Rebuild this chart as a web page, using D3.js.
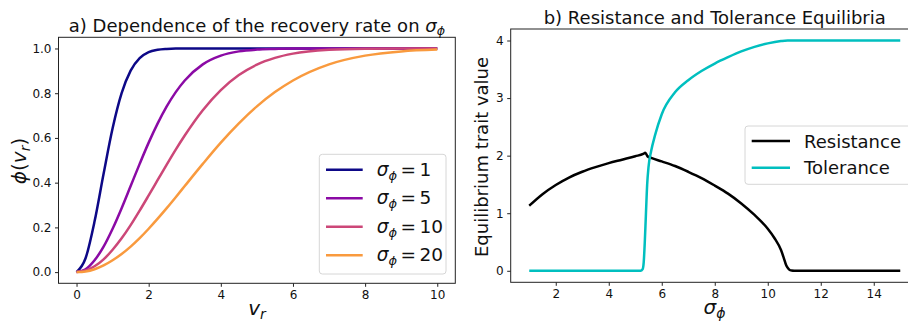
<!DOCTYPE html>
<html>
<head>
<meta charset="utf-8">
<script src="https://cdn.jsdelivr.net/npm/d3@7"></script>
<style>
  body { margin: 0; background: #fff; }
  svg { display: block; font-family: "DejaVu Sans", sans-serif; }
</style>
</head>
<body>
<div id="chart"></div>
<script>
const WIDTH = 908;
const HEIGHT = 322;

// panel a: recovery rate curves
const vGrid = [0, 0.25, 0.5, 0.75, 1, 1.25, 1.5, 1.75, 2, 2.25, 2.5, 2.75, 3, 3.5, 4, 4.5, 5, 5.5, 6, 7, 8, 9, 10];
const phiSigma1 = [0, 0.062, 0.227, 0.44, 0.643, 0.8, 0.901, 0.957, 0.984, 0.994, 0.998, 1, 1, 1, 1, 1, 1, 1, 1, 1, 1, 1, 1];
const phiSigma5 = [0, 0.013, 0.053, 0.114, 0.194, 0.286, 0.385, 0.484, 0.579, 0.665, 0.741, 0.805, 0.857, 0.929, 0.968, 0.987, 0.995, 0.998, 1, 1, 1, 1, 1];
const phiSigma10 = [0, 0.007, 0.026, 0.057, 0.1, 0.151, 0.21, 0.275, 0.343, 0.412, 0.481, 0.548, 0.611, 0.724, 0.814, 0.881, 0.928, 0.958, 0.977, 0.994, 0.999, 1, 1];
const phiSigma20 = [0, 0.003, 0.013, 0.03, 0.053, 0.081, 0.114, 0.152, 0.194, 0.239, 0.286, 0.335, 0.385, 0.484, 0.579, 0.665, 0.741, 0.805, 0.857, 0.929, 0.968, 0.987, 0.995];
const sigmaLabels = ['1', '5', '10', '20'];
const xTicksA = [0, 2, 4, 6, 8, 10];
const yTicksA = [0, 0.2, 0.4, 0.6, 0.8, 1.0];

// panel b: equilibria against sigma_phi
const resistanceSigma = [1, 1.5, 2, 2.5, 3, 3.5, 4, 4.5, 5, 5.3, 5.38, 5.46, 5.6, 6, 6.5, 7, 7.5, 8, 8.5, 9, 9.5, 10, 10.25, 10.5, 10.6, 10.7, 10.8, 10.9, 11, 12, 13, 14, 15];
const resistanceValues = [1.13, 1.33, 1.49, 1.62, 1.72, 1.8, 1.87, 1.93, 1.99, 2.03, 2.05, 1.99, 1.96, 1.9, 1.82, 1.72, 1.61, 1.48, 1.34, 1.17, 0.97, 0.73, 0.57, 0.36, 0.23, 0.09, 0.025, 0.003, 0, 0, 0, 0, 0];
const toleranceSigma = [1, 2, 3, 4, 5, 5.2, 5.28, 5.32, 5.36, 5.4, 5.45, 5.5, 5.6, 5.75, 6, 6.5, 7, 7.5, 8, 8.5, 9, 9.5, 10, 10.5, 10.75, 11, 12, 13, 14, 15];
const toleranceValues = [0, 0, 0, 0, 0, 0, 0.03, 0.15, 0.5, 0.95, 1.5, 1.8, 2.08, 2.36, 2.72, 3.1, 3.31, 3.47, 3.6, 3.71, 3.81, 3.89, 3.95, 3.99, 4, 4, 4, 4, 4, 4];
const seriesNamesB = ['Resistance', 'Tolerance'];
const xTicksB = [2, 4, 6, 8, 10, 12, 14];
const yTicksB = [0, 1, 2, 3, 4];

const colorsA = ['#0d0887', '#8b0aa5', '#cc4778', '#f99a3e'];
const colorsB = ['#000000', '#00bfbf'];

const svg = d3.select('#chart').append('svg')
  .attr('width', WIDTH)
  .attr('height', HEIGHT);

// write mathtext-like pieces: {t, it, sub, dx}
function mathText(sel, parts) {
  let inSub = false;
  parts.forEach((p) => {
    const ts = sel.append('tspan').text(p.t);
    if (p.it) ts.attr('font-style', 'italic');
    if (p.dx) ts.attr('dx', p.dx);
    if (p.sub && !inSub) { ts.attr('dy', '0.3em').attr('font-size', '0.7em'); inSub = true; }
    else if (p.sub) ts.attr('font-size', '0.7em');
    else if (inSub) { ts.attr('dy', '-0.21em'); inSub = false; }
  });
  return sel;
}

function drawAxes(g, x, y, xt, yt, yfmt) {
  const [x0, x1] = x.range();
  const [y0, y1] = y.range();
  g.append('g')
    .attr('transform', `translate(0,${y0})`)
    .call(d3.axisBottom(x).tickValues(xt).tickSize(3.5).tickPadding(3.5).tickSizeOuter(0))
    .call((a) => a.select('.domain').remove());
  g.append('g')
    .attr('transform', `translate(${x0},0)`)
    .call(d3.axisLeft(y).tickValues(yt).tickFormat(yfmt).tickSize(3.5).tickPadding(3.5).tickSizeOuter(0))
    .call((a) => a.select('.domain').remove());
  g.selectAll('.tick text').attr('font-size', 12).attr('font-family', 'DejaVu Sans').attr('fill', '#111');
  g.selectAll('.tick line').attr('stroke', '#222');
  g.append('rect')
    .attr('x', x0).attr('y', y1)
    .attr('width', x1 - x0).attr('height', y0 - y1)
    .attr('fill', 'none').attr('stroke', '#222').attr('stroke-width', 1);
}

// ---- panel a
const xA = d3.scaleLinear().domain([-0.5, 10.5]).range([58.5, 455.3]);
const yA = d3.scaleLinear().domain([-0.05, 1.05]).range([283.3, 37.3]);
const gA = svg.append('g');

drawAxes(gA, xA, yA, xTicksA, yTicksA, d3.format('.1f'));

const lineA = d3.line()
  .x((d) => xA(d[0]))
  .y((d) => yA(d[1]))
  .curve(d3.curveMonotoneX);

[phiSigma1, phiSigma5, phiSigma10, phiSigma20].forEach((vals, i) => {
  gA.append('path')
    .datum(vGrid.map((v, j) => [v, vals[j]]))
    .attr('d', lineA)
    .attr('fill', 'none')
    .attr('stroke', colorsA[i])
    .attr('stroke-width', 2.5);
});

mathText(gA.append('text')
  .attr('x', (xA.range()[0] + xA.range()[1]) / 2).attr('y', 31.5)
  .attr('text-anchor', 'middle').attr('font-size', 18).attr('fill', '#111'),
  [{t: 'a) Dependence of the recovery rate on '}, {t: 'σ', it: true}, {t: 'ϕ', it: true, sub: true}]);

mathText(gA.append('text')
  .attr('x', 257).attr('y', 314.5)
  .attr('text-anchor', 'middle').attr('font-size', 20).attr('fill', '#111'),
  [{t: 'v', it: true}, {t: 'r', it: true, sub: true}]);

mathText(gA.append('text')
  .attr('transform', 'translate(26,161) rotate(-90)')
  .attr('text-anchor', 'middle').attr('font-size', 20).attr('fill', '#111'),
  [{t: 'ϕ', it: true}, {t: '('}, {t: 'v', it: true}, {t: 'r', it: true, sub: true}, {t: ')'}]);

// legend a
const legA = gA.append('g');
legA.append('rect')
  .attr('x', 319.3).attr('y', 154.3).attr('width', 126.7).attr('height', 119.7)
  .attr('rx', 3).attr('fill', '#fff').attr('fill-opacity', 0.8)
  .attr('stroke', '#d6d6d6');
sigmaLabels.forEach((lab, i) => {
  const ly = 169.7 + i * 28.5;
  legA.append('line')
    .attr('x1', 326).attr('x2', 362.7).attr('y1', ly).attr('y2', ly)
    .attr('stroke', colorsA[i]).attr('stroke-width', 2.5);
  mathText(legA.append('text')
    .attr('x', 376.7).attr('y', ly + 6)
    .attr('font-size', 18.5).attr('fill', '#111'),
    [{t: 'σ', it: true}, {t: 'ϕ', it: true, sub: true}, {t: '=', dx: 3.5}, {t: lab, dx: 3.5}]);
});

// ---- panel b
const xB = d3.scaleLinear().domain([0.3, 15.7]).range([510.7, 918.8]);
const yB = d3.scaleLinear().domain([-0.2, 4.2]).range([282.3, 29]);
const gB = svg.append('g');

drawAxes(gB, xB, yB, xTicksB, yTicksB, d3.format('d'));

const lineB = d3.line()
  .x((d) => xB(d[0]))
  .y((d) => yB(d[1]))
  .curve(d3.curveMonotoneX);

[[resistanceSigma, resistanceValues], [toleranceSigma, toleranceValues]].forEach(([xs, ys], i) => {
  gB.append('path')
    .datum(xs.map((s, j) => [s, ys[j]]))
    .attr('d', lineB)
    .attr('fill', 'none')
    .attr('stroke', colorsB[i])
    .attr('stroke-width', 2.5);
});

gB.append('text')
  .attr('x', (xB.range()[0] + xB.range()[1]) / 2).attr('y', 24)
  .attr('text-anchor', 'middle').attr('font-size', 18).attr('fill', '#111')
  .text('b) Resistance and Tolerance Equilibria');

mathText(gB.append('text')
  .attr('x', 714.5).attr('y', 314)
  .attr('text-anchor', 'middle').attr('font-size', 20).attr('fill', '#111'),
  [{t: 'σ', it: true}, {t: 'ϕ', it: true, sub: true}]);

gB.append('text')
  .attr('transform', 'translate(488,157) rotate(-90)')
  .attr('text-anchor', 'middle').attr('font-size', 18).attr('fill', '#111')
  .text('Equilibrium trait value');

// legend b
const legB = gB.append('g');
legB.append('rect')
  .attr('x', 745).attr('y', 126).attr('width', 170).attr('height', 58.3)
  .attr('rx', 3).attr('fill', '#fff').attr('fill-opacity', 0.8)
  .attr('stroke', '#d6d6d6');
seriesNamesB.forEach((name, i) => {
  const ly = 141 + i * 26.7;
  legB.append('line')
    .attr('x1', 751.7).attr('x2', 790).attr('y1', ly).attr('y2', ly)
    .attr('stroke', colorsB[i]).attr('stroke-width', 2.5);
  legB.append('text')
    .attr('x', 804).attr('y', ly + 6.5)
    .attr('font-size', 18).attr('fill', '#111')
    .text(name);
});
</script>
</body>
</html>
